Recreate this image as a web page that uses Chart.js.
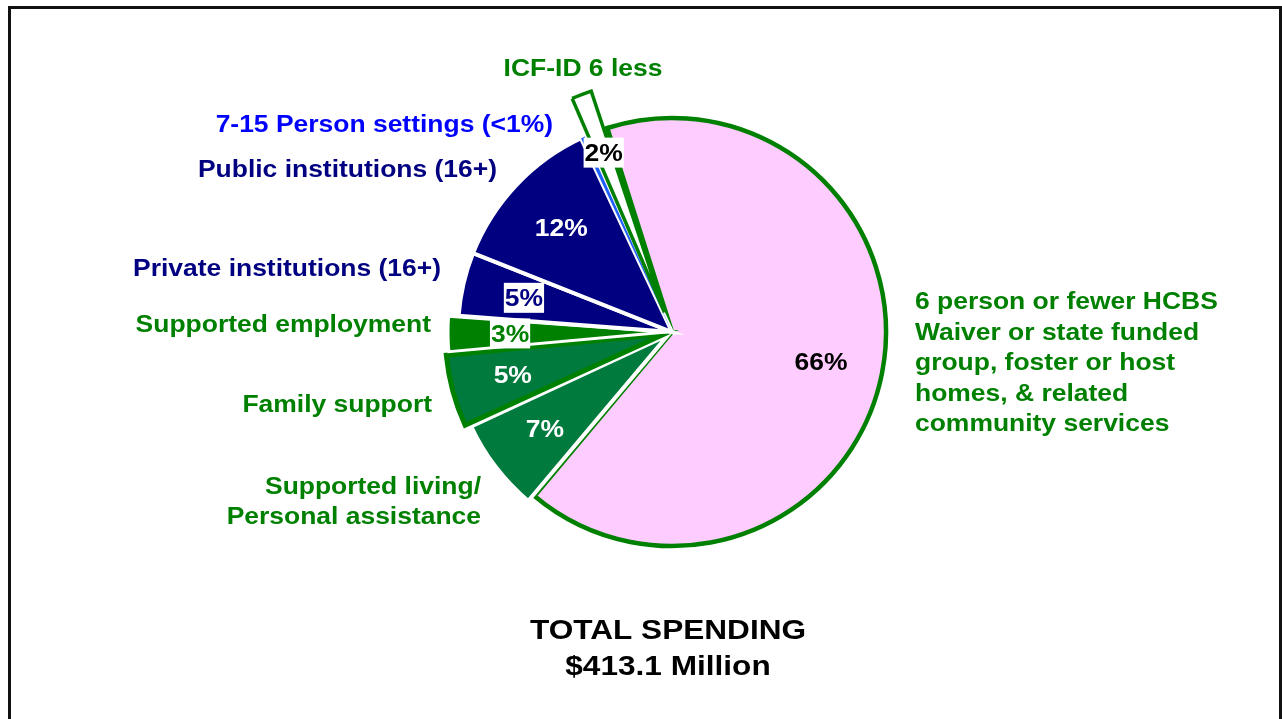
<!DOCTYPE html>
<html>
<head>
<meta charset="utf-8">
<script src="https://cdn.jsdelivr.net/npm/chart.js@4.4.0/dist/chart.umd.min.js"></script>
<style>
    html, body { margin: 0; padding: 0; background: #fff; overflow: hidden; }
    #frame {
        position: absolute; left: 8px; top: 6px; width: 1274px; height: 760px;
        box-sizing: border-box; border: 3px solid #111;
    }
    #spendChart { position: absolute; left: 0; top: 0; }
</style>
</head>
<body>
<div id="frame"></div>
<canvas id="spendChart" width="1282" height="719"></canvas>
<script>
// categories, clockwise from the top of the pie
const categories = [
    '6 person or fewer HCBS Waiver or state funded group, foster or host homes, & related community services',
    'Supported living/ Personal assistance',
    'Family support',
    'Supported employment',
    'Private institutions (16+)',
    'Public institutions (16+)',
    '7-15 Person settings (<1%)',
    'ICF-ID 6 less'
];
// share of total spending, percent
const shares = [66.0, 7.0, 5.4, 2.7, 4.8, 12.0, 0.3, 1.8];
// how each category name is broken on the chart
const categoryLines = [
    ['6 person or fewer HCBS', 'Waiver or state funded', 'group, foster or host', 'homes, & related', 'community services'],
    ['Supported living/', 'Personal assistance'],
    ['Family support'],
    ['Supported employment'],
    ['Private institutions (16+)'],
    ['Public institutions (16+)'],
    ['7-15 Person settings (<1%)'],
    ['ICF-ID 6 less']
];
const totalLines = ['TOTAL SPENDING', '$413.1 Million'];

// styling
const GREEN = '#008000', NAVY = '#000080', BLUE = '#0000FF';
const fills = ['#FFCCFF', '#007A3D', '#007A3D', '#008000', '#000080', '#000080', '#2060FF', '#FFFFFF'];
const borders = [GREEN, '#FFFFFF', GREEN, '#FFFFFF', '#FFFFFF', '#FFFFFF', '#FFFFFF', GREEN];
const borderWidths = [4.5, 4, 5, 3, 4, 4, 0, 3.5];
const explodePx = [0, 8, 13, 10, 0, 0, 0, 40];
const nameColors = [GREEN, GREEN, GREEN, GREEN, NAVY, NAVY, BLUE, GREEN];
const pctColors = ['#000', '#fff', '#fff', GREEN, NAVY, '#fff', null, '#000'];
const pctBoxed = [false, false, false, true, true, false, false, true];

// where the category names sit (baseline of first line)
const namePlaces = [
    { x: 915, y: 309, align: 'left', gap: 30.5 },
    { x: 481, y: 494, align: 'right', gap: 30 },
    { x: 432, y: 412, align: 'right' },
    { x: 431, y: 332, align: 'right' },
    { x: 441, y: 276, align: 'right' },
    { x: 497, y: 177, align: 'right' },
    { x: 553, y: 132, align: 'right' },
    { x: 583, y: 76, align: 'center' }
];

const FONT = '"Liberation Sans", Arial, sans-serif';
const SX = 1.15;

// Chart.js moves an exploded arc by offset/4 * (2 - sin(circ)); invert that
const totalShare = shares.reduce((a, b) => a + b, 0);
const offsets = shares.map((v, i) => {
    const circ = v / totalShare * Math.PI * 2;
    return 4 * explodePx[i] / (2 - Math.sin(Math.min(Math.PI, circ)));
});

function drawText(ctx, str, x, y, size, color, align, sx) {
    ctx.save();
    ctx.translate(x, y);
    ctx.scale(sx, 1);
    ctx.font = 'bold ' + size + 'px ' + FONT;
    ctx.fillStyle = color;
    ctx.textAlign = align;
    ctx.textBaseline = 'alphabetic';
    ctx.fillText(str, 0, 0);
    ctx.restore();
}

const labelPlugin = {
    id: 'sliceLabels',
    afterDatasetsDraw(chart) {
        const ctx = chart.ctx;
        const arcs = chart.getDatasetMeta(0).data;

        // percentages inside the slices
        arcs.forEach((arc, i) => {
            if (!pctColors[i]) return;
            const p = arc.getProps(['x', 'y', 'startAngle', 'endAngle', 'outerRadius', 'circumference'], true);
            const shift = (arc.options.offset || 0) / 4 * (2 - Math.sin(Math.min(Math.PI, p.circumference)));
            const mid = (p.startAngle + p.endAngle) / 2;
            const r = shift + 0.71 * p.outerRadius;
            const cx = p.x + Math.cos(mid) * r;
            const cy = p.y + Math.sin(mid) * r;
            const txt = Math.round(shares[i]) + '%';
            ctx.font = 'bold 23px ' + FONT;
            const w = ctx.measureText(txt).width * SX;
            if (pctBoxed[i]) {
                ctx.fillStyle = '#fff';
                ctx.fillRect(cx - w / 2 - 1, cy - 15, w + 2, 30);
            }
            drawText(ctx, txt, cx, cy + 8.2, 23, pctColors[i], 'center', SX);
        });

        // category names
        categoryLines.forEach((lines, i) => {
            const pl = namePlaces[i];
            lines.forEach((ln, k) => {
                drawText(ctx, ln, pl.x, pl.y + k * (pl.gap || 30), 23, nameColors[i], pl.align, SX);
            });
        });

        // total
        drawText(ctx, totalLines[0], 668, 639, 27, '#000', 'center', 1.17);
        drawText(ctx, totalLines[1], 668, 675, 27, '#000', 'center', 1.17);
    }
};

const ctx = document.getElementById('spendChart').getContext('2d');
new Chart(ctx, {
    type: 'pie',
    data: {
        labels: categories,
        datasets: [{
            data: shares,
            backgroundColor: fills,
            borderColor: borders,
            borderWidth: borderWidths,
            borderJoinStyle: 'miter',
            offset: offsets
        }]
    },
    options: {
        responsive: false,
        animation: false,
        events: [],
        rotation: -17.6,
        radius: 214,
        layout: { padding: { left: 62, right: 0, top: 0, bottom: 55 } },
        plugins: {
            legend: { display: false },
            tooltip: { enabled: false }
        }
    },
    plugins: [labelPlugin]
});
</script>
</body>
</html>
